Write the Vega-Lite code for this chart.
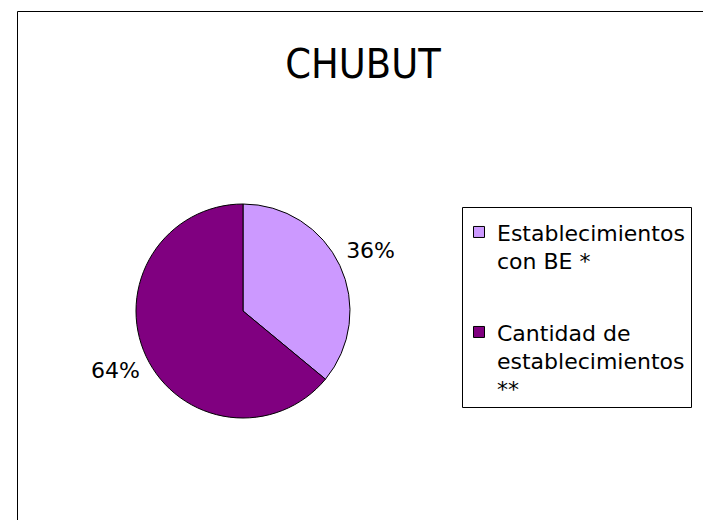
{
  "$schema": "https://vega.github.io/schema/vega-lite/v6.json",
  "autosize": "none",
  "width": 214,
  "height": 214,
  "padding": {"left": 136, "top": 204, "right": 353, "bottom": 102},
  "background": "white",
  "config": {"style": {"guide-label": {"lineHeight": 28}}},
  "title": {
    "text": "CHUBUT",
    "font": "'Liberation Sans Narrow', 'DejaVu Sans Condensed', sans-serif",
    "fontSize": 41,
    "fontWeight": "normal",
    "color": "black",
    "anchor": "middle",
    "frame": "group",
    "dx": 120,
    "offset": -108,
    "baseline": "alphabetic"
  },
  "data": {
    "values": [
      {"categoria": "Establecimientos con BE *", "valor": 36, "etiqueta": "36%", "orden": 1},
      {"categoria": "Cantidad de establecimientos **", "valor": 64, "etiqueta": "64%", "orden": 2}
    ]
  },
  "encoding": {
    "theta": {"field": "valor", "type": "quantitative", "stack": true},
    "order": {"field": "orden", "type": "quantitative"}
  },
  "layer": [
    {
      "mark": {"type": "arc", "outerRadius": 107, "stroke": "black", "strokeWidth": 1},
      "encoding": {
        "color": {
          "field": "categoria",
          "type": "nominal",
          "scale": {
            "domain": ["Establecimientos con BE *", "Cantidad de establecimientos **"],
            "range": ["#CC99FF", "#800080"]
          },
          "legend": {
            "orient": "none",
            "legendX": 326,
            "legendY": 3,
            "title": null,
            "strokeColor": "black",
            "fillColor": "white",
            "padding": 6,
            "cornerRadius": 0,
            "labelFont": "DejaVu Sans",
            "labelFontSize": 22,
            "labelColor": "black",
            "labelLimit": 0,
            "labelOffset": 7,
            "labelBaseline": "top",
            "labelExpr": "datum.label == 'Establecimientos con BE *' ? ['Establecimientos', 'con BE *'] : ['Cantidad de', 'establecimientos', '**']",
            "symbolType": "M-1,0.45H1V2.45H-1Z",
            "symbolSize": 121,
            "symbolStrokeColor": "black",
            "symbolStrokeWidth": 1,
            "symbolOpacity": 1,
            "rowPadding": 40
          }
        },
        "opacity": {
          "field": "orden",
          "type": "ordinal",
          "scale": {"range": [1, 1]},
          "legend": {
            "orient": "none",
            "legendX": -119,
            "legendY": -193,
            "title": null,
            "strokeColor": "black",
            "padding": 400,
            "cornerRadius": 0,
            "labelExpr": "''",
            "symbolSize": 0,
            "symbolOpacity": 0,
            "labelOpacity": 0
          }
        }
      }
    },
    {
      "mark": {"type": "text", "radius": 141, "font": "DejaVu Sans", "fontSize": 22, "color": "black", "align": "center", "baseline": "middle"},
      "encoding": {
        "detail": {"field": "categoria", "type": "nominal"},
        "text": {"field": "etiqueta", "type": "nominal"}
      }
    }
  ]
}
